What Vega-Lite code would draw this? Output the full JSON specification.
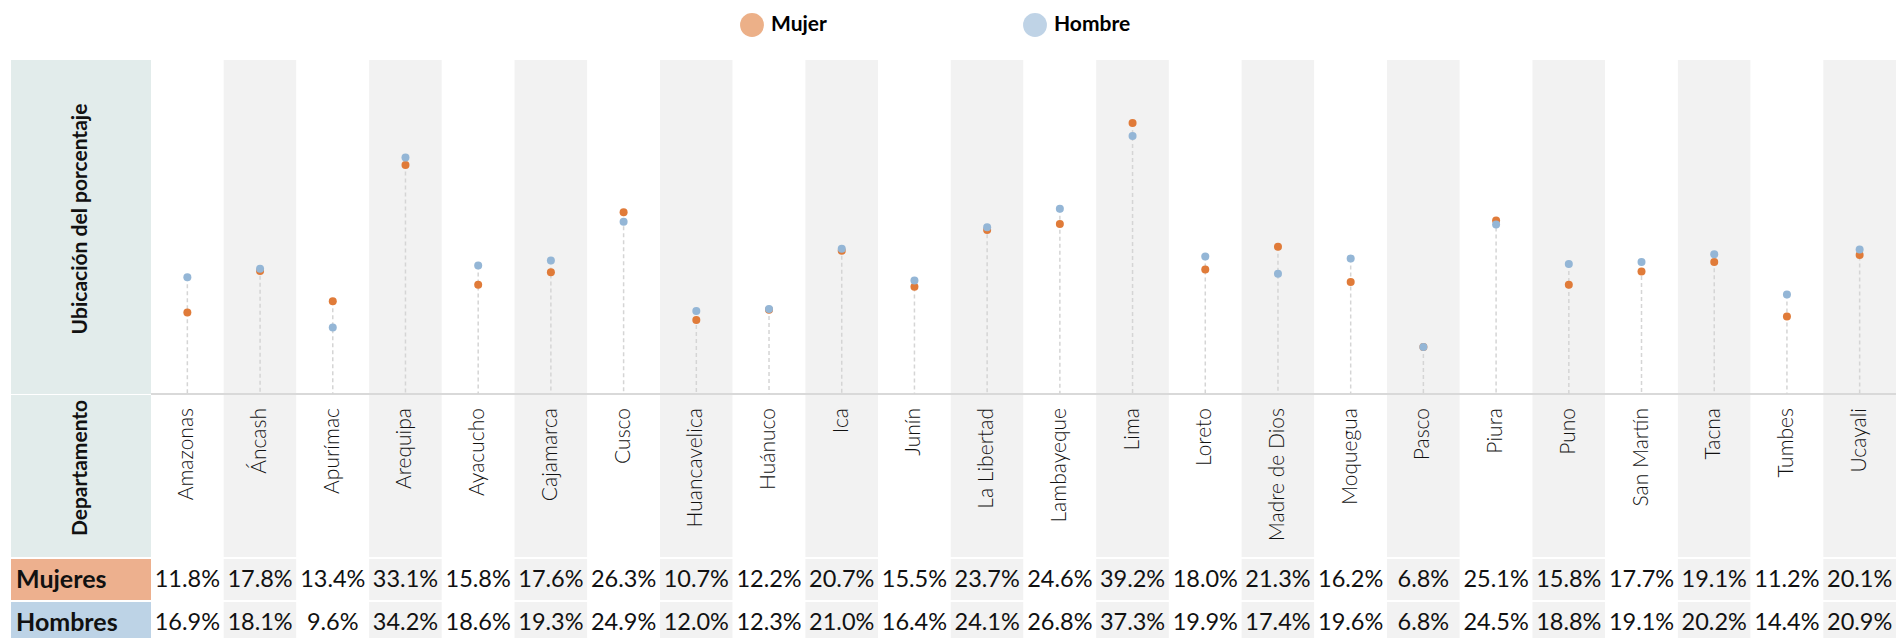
{
  "$schema": "https://vega.github.io/schema/vega-lite/v6.json",
  "background": "white",
  "padding": {"left": 11, "top": 13, "right": 0, "bottom": 0},
  "autosize": {"type": "pad"},
  "spacing": 2,
  "config": {"font": "Lato", "view": {"stroke": null}, "concat": {"spacing": 0}},
  "datasets": {
    "deps": [
      {"departamento": "Amazonas"}, {"departamento": "Áncash"}, {"departamento": "Apurímac"}, {"departamento": "Arequipa"},
      {"departamento": "Ayacucho"}, {"departamento": "Cajamarca"}, {"departamento": "Cusco"}, {"departamento": "Huancavelica"},
      {"departamento": "Huánuco"}, {"departamento": "Ica"}, {"departamento": "Junín"}, {"departamento": "La Libertad"},
      {"departamento": "Lambayeque"}, {"departamento": "Lima"}, {"departamento": "Loreto"}, {"departamento": "Madre de Dios"},
      {"departamento": "Moquegua"}, {"departamento": "Pasco"}, {"departamento": "Piura"}, {"departamento": "Puno"},
      {"departamento": "San Martín"}, {"departamento": "Tacna"}, {"departamento": "Tumbes"}, {"departamento": "Ucayali"}
    ],
    "valores": [
      {"departamento": "Amazonas", "sexo": "Mujer", "valor": 0.118},
      {"departamento": "Áncash", "sexo": "Mujer", "valor": 0.178},
      {"departamento": "Apurímac", "sexo": "Mujer", "valor": 0.134},
      {"departamento": "Arequipa", "sexo": "Mujer", "valor": 0.331},
      {"departamento": "Ayacucho", "sexo": "Mujer", "valor": 0.158},
      {"departamento": "Cajamarca", "sexo": "Mujer", "valor": 0.176},
      {"departamento": "Cusco", "sexo": "Mujer", "valor": 0.263},
      {"departamento": "Huancavelica", "sexo": "Mujer", "valor": 0.107},
      {"departamento": "Huánuco", "sexo": "Mujer", "valor": 0.122},
      {"departamento": "Ica", "sexo": "Mujer", "valor": 0.207},
      {"departamento": "Junín", "sexo": "Mujer", "valor": 0.155},
      {"departamento": "La Libertad", "sexo": "Mujer", "valor": 0.237},
      {"departamento": "Lambayeque", "sexo": "Mujer", "valor": 0.246},
      {"departamento": "Lima", "sexo": "Mujer", "valor": 0.392},
      {"departamento": "Loreto", "sexo": "Mujer", "valor": 0.180},
      {"departamento": "Madre de Dios", "sexo": "Mujer", "valor": 0.213},
      {"departamento": "Moquegua", "sexo": "Mujer", "valor": 0.162},
      {"departamento": "Pasco", "sexo": "Mujer", "valor": 0.068},
      {"departamento": "Piura", "sexo": "Mujer", "valor": 0.251},
      {"departamento": "Puno", "sexo": "Mujer", "valor": 0.158},
      {"departamento": "San Martín", "sexo": "Mujer", "valor": 0.177},
      {"departamento": "Tacna", "sexo": "Mujer", "valor": 0.191},
      {"departamento": "Tumbes", "sexo": "Mujer", "valor": 0.112},
      {"departamento": "Ucayali", "sexo": "Mujer", "valor": 0.201},
      {"departamento": "Amazonas", "sexo": "Hombre", "valor": 0.169},
      {"departamento": "Áncash", "sexo": "Hombre", "valor": 0.181},
      {"departamento": "Apurímac", "sexo": "Hombre", "valor": 0.096},
      {"departamento": "Arequipa", "sexo": "Hombre", "valor": 0.342},
      {"departamento": "Ayacucho", "sexo": "Hombre", "valor": 0.186},
      {"departamento": "Cajamarca", "sexo": "Hombre", "valor": 0.193},
      {"departamento": "Cusco", "sexo": "Hombre", "valor": 0.249},
      {"departamento": "Huancavelica", "sexo": "Hombre", "valor": 0.120},
      {"departamento": "Huánuco", "sexo": "Hombre", "valor": 0.123},
      {"departamento": "Ica", "sexo": "Hombre", "valor": 0.210},
      {"departamento": "Junín", "sexo": "Hombre", "valor": 0.164},
      {"departamento": "La Libertad", "sexo": "Hombre", "valor": 0.241},
      {"departamento": "Lambayeque", "sexo": "Hombre", "valor": 0.268},
      {"departamento": "Lima", "sexo": "Hombre", "valor": 0.373},
      {"departamento": "Loreto", "sexo": "Hombre", "valor": 0.199},
      {"departamento": "Madre de Dios", "sexo": "Hombre", "valor": 0.174},
      {"departamento": "Moquegua", "sexo": "Hombre", "valor": 0.196},
      {"departamento": "Pasco", "sexo": "Hombre", "valor": 0.068},
      {"departamento": "Piura", "sexo": "Hombre", "valor": 0.245},
      {"departamento": "Puno", "sexo": "Hombre", "valor": 0.188},
      {"departamento": "San Martín", "sexo": "Hombre", "valor": 0.191},
      {"departamento": "Tacna", "sexo": "Hombre", "valor": 0.202},
      {"departamento": "Tumbes", "sexo": "Hombre", "valor": 0.144},
      {"departamento": "Ucayali", "sexo": "Hombre", "valor": 0.209}
    ]
  },
  "vconcat": [
    {
      "spacing": 0,
      "vconcat": [
        {
          "bounds": "flush",
          "hconcat": [
            {
              "width": 140, "height": 334,
              "view": {"fill": "#E2ECEB", "stroke": null},
              "data": {"values": [{"titulo": "Ubicación del porcentaje"}]},
              "mark": {"type": "text", "angle": 270, "fontSize": 21, "fontWeight": "bold", "color": "#111111", "dx": 8, "align": "center", "baseline": "middle"},
              "encoding": {"text": {"field": "titulo", "type": "nominal"}}
            },
            {
              "width": 1745, "height": 334,
              "layer": [
                {
                  "data": {"name": "deps"},
                  "transform": [{"window": [{"op": "row_number", "as": "i"}]}],
                  "mark": {"type": "rect"},
                  "encoding": {
                    "x": {"field": "departamento", "type": "nominal", "axis": null,
                      "scale": {"paddingInner": 0, "paddingOuter": 0, "domain": ["Amazonas","Áncash","Apurímac","Arequipa","Ayacucho","Cajamarca","Cusco","Huancavelica","Huánuco","Ica","Junín","La Libertad","Lambayeque","Lima","Loreto","Madre de Dios","Moquegua","Pasco","Piura","Puno","San Martín","Tacna","Tumbes","Ucayali"]}},
                    "fill": {"condition": {"test": "datum.i % 2 == 0", "value": "#F2F2F2"}, "value": "#FFFFFF"}
                  }
                },
                {
                  "data": {"values": [{}]},
                  "mark": {"type": "rule", "color": "#D9D9D9", "strokeWidth": 2},
                  "encoding": {"y": {"datum": 0, "type": "quantitative", "axis": null, "scale": {"domain": [0, 0.483], "nice": false, "zero": true}}}
                },
                {
                  "data": {"name": "valores"},
                  "mark": {"type": "rule", "color": "#D5D5D5", "strokeWidth": 1.5, "strokeDash": [4, 3]},
                  "encoding": {
                    "x": {"field": "departamento", "type": "nominal", "axis": null,
                      "scale": {"paddingInner": 0, "paddingOuter": 0, "domain": ["Amazonas","Áncash","Apurímac","Arequipa","Ayacucho","Cajamarca","Cusco","Huancavelica","Huánuco","Ica","Junín","La Libertad","Lambayeque","Lima","Loreto","Madre de Dios","Moquegua","Pasco","Piura","Puno","San Martín","Tacna","Tumbes","Ucayali"]}},
                    "y": {"aggregate": "max", "field": "valor", "type": "quantitative", "axis": null, "scale": {"domain": [0, 0.483], "nice": false, "zero": true}},
                    "y2": {"datum": 0}
                  }
                },
                {
                  "data": {"name": "valores"},
                  "mark": {"type": "circle", "size": 64, "opacity": 1},
                  "encoding": {
                    "x": {"field": "departamento", "type": "nominal", "axis": null,
                      "scale": {"paddingInner": 0, "paddingOuter": 0, "domain": ["Amazonas","Áncash","Apurímac","Arequipa","Ayacucho","Cajamarca","Cusco","Huancavelica","Huánuco","Ica","Junín","La Libertad","Lambayeque","Lima","Loreto","Madre de Dios","Moquegua","Pasco","Piura","Puno","San Martín","Tacna","Tumbes","Ucayali"]}},
                    "y": {"field": "valor", "type": "quantitative", "axis": null, "scale": {"domain": [0, 0.483], "nice": false, "zero": true}},
                    "color": {"field": "sexo", "type": "nominal",
                      "scale": {"domain": ["Mujer", "Hombre"], "range": ["#E07B39", "#94B6D6"]},
                      "legend": {"orient": "none", "legendX": 729, "legendY": -47, "direction": "horizontal", "title": null,
                        "symbolType": "circle", "symbolSize": 570, "symbolOpacity": 0.6, "symbolStrokeWidth": 0,
                        "labelFont": "Lato", "labelFontSize": 21, "labelFontWeight": "bold", "labelColor": "#000000",
                        "labelOffset": 7, "columnPadding": 196, "padding": 0}}
                  }
                }
              ]
            }
          ]
        },
        {
          "bounds": "flush",
          "hconcat": [
            {
              "width": 140, "height": 162,
              "view": {"fill": "#E2ECEB", "stroke": null},
              "data": {"values": [{"titulo": "Departamento"}]},
              "mark": {"type": "text", "angle": 270, "fontSize": 21, "fontWeight": "bold", "color": "#111111", "dx": 8, "align": "center", "baseline": "middle"},
              "encoding": {"text": {"field": "titulo", "type": "nominal"}}
            },
            {
              "width": 1745, "height": 162,
              "layer": [
                {
                  "data": {"name": "deps"},
                  "transform": [{"window": [{"op": "row_number", "as": "i"}]}],
                  "mark": {"type": "rect"},
                  "encoding": {
                    "x": {"field": "departamento", "type": "nominal", "axis": null,
                      "scale": {"paddingInner": 0, "paddingOuter": 0, "domain": ["Amazonas","Áncash","Apurímac","Arequipa","Ayacucho","Cajamarca","Cusco","Huancavelica","Huánuco","Ica","Junín","La Libertad","Lambayeque","Lima","Loreto","Madre de Dios","Moquegua","Pasco","Piura","Puno","San Martín","Tacna","Tumbes","Ucayali"]}},
                    "fill": {"condition": {"test": "datum.i % 2 == 0", "value": "#F2F2F2"}, "value": "#FFFFFF"}
                  }
                },
                {
                  "data": {"name": "deps"},
                  "mark": {"type": "text", "angle": 270, "align": "right", "baseline": "middle", "dx": 68, "fontSize": 21, "fontWeight": 300, "color": "#111111"},
                  "encoding": {
                    "x": {"field": "departamento", "type": "nominal", "axis": null,
                      "scale": {"paddingInner": 0, "paddingOuter": 0, "domain": ["Amazonas","Áncash","Apurímac","Arequipa","Ayacucho","Cajamarca","Cusco","Huancavelica","Huánuco","Ica","Junín","La Libertad","Lambayeque","Lima","Loreto","Madre de Dios","Moquegua","Pasco","Piura","Puno","San Martín","Tacna","Tumbes","Ucayali"]}},
                    "text": {"field": "departamento", "type": "nominal"}
                  }
                }
              ]
            }
          ]
        }
      ]
    },
    {
      "bounds": "flush",
      "hconcat": [
        {
          "width": 140, "height": 41,
          "view": {"fill": "#EDB08E", "stroke": null},
          "data": {"values": [{"t": "Mujeres"}]},
          "mark": {"type": "text", "align": "left", "baseline": "middle", "fontSize": 25, "fontWeight": "bold", "color": "#111111", "dx": -65},
          "encoding": {"text": {"field": "t", "type": "nominal"}}
        },
        {
          "width": 1745, "height": 41,
          "layer": [
            {
              "data": {"name": "deps"},
              "transform": [{"window": [{"op": "row_number", "as": "i"}]}],
              "mark": {"type": "rect"},
              "encoding": {
                "x": {"field": "departamento", "type": "nominal", "axis": null,
                  "scale": {"paddingInner": 0, "paddingOuter": 0, "domain": ["Amazonas","Áncash","Apurímac","Arequipa","Ayacucho","Cajamarca","Cusco","Huancavelica","Huánuco","Ica","Junín","La Libertad","Lambayeque","Lima","Loreto","Madre de Dios","Moquegua","Pasco","Piura","Puno","San Martín","Tacna","Tumbes","Ucayali"]}},
                "fill": {"condition": {"test": "datum.i % 2 == 0", "value": "#F2F2F2"}, "value": "#FFFFFF"}
              }
            },
            {
              "data": {"name": "valores"},
              "transform": [{"filter": "datum.sexo == 'Mujer'"}],
              "mark": {"type": "text", "fontSize": 23.5, "color": "#111111", "baseline": "middle"},
              "encoding": {
                "x": {"field": "departamento", "type": "nominal", "axis": null,
                  "scale": {"paddingInner": 0, "paddingOuter": 0, "domain": ["Amazonas","Áncash","Apurímac","Arequipa","Ayacucho","Cajamarca","Cusco","Huancavelica","Huánuco","Ica","Junín","La Libertad","Lambayeque","Lima","Loreto","Madre de Dios","Moquegua","Pasco","Piura","Puno","San Martín","Tacna","Tumbes","Ucayali"]}},
                "text": {"field": "valor", "type": "quantitative", "format": ".1%"}
              }
            }
          ]
        }
      ]
    },
    {
      "bounds": "flush",
      "hconcat": [
        {
          "width": 140, "height": 37,
          "view": {"fill": "#BDD3E6", "stroke": null},
          "data": {"values": [{"t": "Hombres"}]},
          "mark": {"type": "text", "align": "left", "baseline": "middle", "fontSize": 25, "fontWeight": "bold", "color": "#111111", "dx": -65, "dy": 2},
          "encoding": {"text": {"field": "t", "type": "nominal"}}
        },
        {
          "width": 1745, "height": 37,
          "layer": [
            {
              "data": {"name": "deps"},
              "transform": [{"window": [{"op": "row_number", "as": "i"}]}],
              "mark": {"type": "rect"},
              "encoding": {
                "x": {"field": "departamento", "type": "nominal", "axis": null,
                  "scale": {"paddingInner": 0, "paddingOuter": 0, "domain": ["Amazonas","Áncash","Apurímac","Arequipa","Ayacucho","Cajamarca","Cusco","Huancavelica","Huánuco","Ica","Junín","La Libertad","Lambayeque","Lima","Loreto","Madre de Dios","Moquegua","Pasco","Piura","Puno","San Martín","Tacna","Tumbes","Ucayali"]}},
                "fill": {"condition": {"test": "datum.i % 2 == 0", "value": "#F2F2F2"}, "value": "#FFFFFF"}
              }
            },
            {
              "data": {"name": "valores"},
              "transform": [{"filter": "datum.sexo == 'Hombre'"}],
              "mark": {"type": "text", "fontSize": 23.5, "color": "#111111", "baseline": "middle", "dy": 2},
              "encoding": {
                "x": {"field": "departamento", "type": "nominal", "axis": null,
                  "scale": {"paddingInner": 0, "paddingOuter": 0, "domain": ["Amazonas","Áncash","Apurímac","Arequipa","Ayacucho","Cajamarca","Cusco","Huancavelica","Huánuco","Ica","Junín","La Libertad","Lambayeque","Lima","Loreto","Madre de Dios","Moquegua","Pasco","Piura","Puno","San Martín","Tacna","Tumbes","Ucayali"]}},
                "text": {"field": "valor", "type": "quantitative", "format": ".1%"}
              }
            }
          ]
        }
      ]
    }
  ]
}
